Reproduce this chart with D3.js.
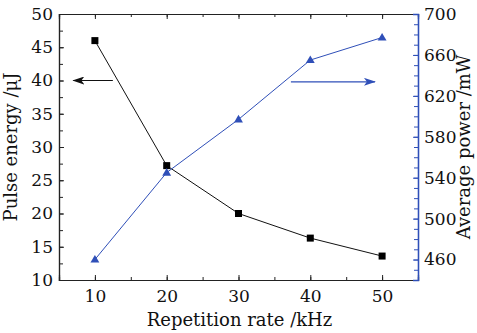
<!DOCTYPE html>
<html>
<head>
<meta charset="utf-8">
<script src="https://cdn.jsdelivr.net/npm/d3@7"></script>
<style>
  body { margin: 0; background: #fff; }
  text { font-family: "DejaVu Serif", serif; }
</style>
</head>
<body>
<div id="chart"></div>
<script>
// data
var rates = [10, 20, 30, 40, 50];
var pulseEnergy = [46, 27.2, 20, 16.3, 13.6];
var avgPower = [460, 545, 597, 655, 677];
var xTicks = [10, 20, 30, 40, 50];
var leftTicks = [10, 15, 20, 25, 30, 35, 40, 45, 50];
var rightTicks = [460, 500, 540, 580, 620, 660, 700];

var blue = "#2f4fb8";

var margin = {top: 14, right: 59, bottom: 53, left: 59},
    width = 477 - margin.left - margin.right,
    height = 333 - margin.top - margin.bottom;

var x = d3.scaleLinear().domain([5, 55]).range([0, width]);
var yL = d3.scaleLinear().domain([10, 50]).range([height, 0]);
var yR = d3.scaleLinear().domain([440, 700]).range([height, 0]);

var svg = d3.select("#chart").append("svg")
    .attr("width", 477)
    .attr("height", 333)
  .append("g")
    .attr("transform", "translate(" + margin.left + "," + margin.top + ")");

function minorTicks(scale, step) {
  var d = scale.domain(), out = [];
  for (var v = d[0]; v <= d[1] + 1e-9; v += step) out.push(+v.toFixed(6));
  return out;
}

// bottom axis
svg.append("g")
    .attr("transform", "translate(0," + height + ")")
    .call(d3.axisBottom(x).tickValues(minorTicks(x, 5)).tickSize(-3).tickFormat(""));
svg.append("g")
    .attr("class", "xaxis")
    .attr("transform", "translate(0," + height + ")")
    .call(d3.axisBottom(x).tickValues(xTicks).tickSize(-5).tickPadding(10));

// top axis
svg.append("g")
    .call(d3.axisTop(x).tickValues(minorTicks(x, 5)).tickSize(-3).tickFormat(""));
svg.append("g")
    .call(d3.axisTop(x).tickValues(xTicks).tickSize(-5).tickFormat(""));

// left axis
svg.append("g")
    .call(d3.axisLeft(yL).tickValues(minorTicks(yL, 2.5)).tickSize(-4).tickFormat(""));
svg.append("g")
    .attr("class", "yaxis")
    .call(d3.axisLeft(yL).tickValues(leftTicks).tickSize(-5).tickPadding(6));

// right axis
var rMinor = svg.append("g")
    .attr("transform", "translate(" + width + ",0)")
    .call(d3.axisRight(yR).tickValues(minorTicks(yR, 10)).tickSize(-4).tickFormat(""));
var rMajor = svg.append("g")
    .attr("class", "yaxis")
    .attr("transform", "translate(" + width + ",0)")
    .call(d3.axisRight(yR).tickValues(rightTicks).tickSize(-5).tickPadding(6));

svg.selectAll(".domain").attr("stroke", "#222").attr("stroke-width", 1.2);
svg.selectAll(".tick line").attr("stroke", "#222");
rMinor.selectAll(".domain, .tick line").attr("stroke", blue);
rMajor.selectAll(".domain, .tick line").attr("stroke", blue);
rMajor.select(".domain").attr("stroke-width", 1.4);

svg.selectAll(".xaxis text, .yaxis text")
    .attr("fill", "#111")
    .style("font-size", "17px");

// pulse energy series
var lineL = d3.line()
    .x(function(d, i) { return x(rates[i]); })
    .y(function(d) { return yL(d); });

svg.append("path")
    .datum(pulseEnergy)
    .attr("fill", "none")
    .attr("stroke", "#111")
    .attr("stroke-width", 1)
    .attr("d", lineL);

svg.selectAll(".sq")
    .data(pulseEnergy)
  .enter().append("rect")
    .attr("class", "sq")
    .attr("x", function(d, i) { return x(rates[i]) - 3.5; })
    .attr("y", function(d) { return yL(d) - 3.5; })
    .attr("width", 7)
    .attr("height", 7)
    .attr("fill", "#000");

// average power series
var lineR = d3.line()
    .x(function(d, i) { return x(rates[i]); })
    .y(function(d) { return yR(d); });

svg.append("path")
    .datum(avgPower)
    .attr("fill", "none")
    .attr("stroke", blue)
    .attr("stroke-width", 1)
    .attr("d", lineR);

svg.selectAll(".tri")
    .data(avgPower)
  .enter().append("path")
    .attr("class", "tri")
    .attr("transform", function(d, i) { return "translate(" + x(rates[i]) + "," + (yR(d) + 0.5) + ")"; })
    .attr("d", d3.symbol().type(d3.symbolTriangle).size(34))
    .attr("fill", blue);

// arrows pointing to the axes
var defs = svg.append("defs");
function arrowHead(id, col) {
  defs.append("marker")
      .attr("id", id)
      .attr("viewBox", "0 0 12 8")
      .attr("refX", 11)
      .attr("refY", 4)
      .attr("markerWidth", 12)
      .attr("markerHeight", 8)
      .attr("markerUnits", "userSpaceOnUse")
      .attr("orient", "auto")
    .append("path")
      .attr("d", "M0,0 L12,4 L0,8 L3,4 Z")
      .attr("fill", col);
}
arrowHead("ahBlack", "#111");
arrowHead("ahBlue", blue);

svg.append("line")
    .attr("x1", x(12.5)).attr("x2", x(7))
    .attr("y1", yL(40)).attr("y2", yL(40))
    .attr("stroke", "#111").attr("stroke-width", 1.2)
    .attr("marker-end", "url(#ahBlack)");

svg.append("line")
    .attr("x1", x(37.3)).attr("x2", x(49))
    .attr("y1", yL(39.8)).attr("y2", yL(39.8))
    .attr("stroke", blue).attr("stroke-width", 1.2)
    .attr("marker-end", "url(#ahBlue)");

// axis titles
svg.append("text")
    .attr("x", width / 2 + 1)
    .attr("y", height + 46)
    .attr("text-anchor", "middle")
    .style("font-size", "18px")
    .attr("fill", "#111")
    .text("Repetition rate /kHz");

svg.append("text")
    .attr("transform", "translate(" + (-42) + "," + (height / 2) + ") rotate(-90)")
    .attr("text-anchor", "middle")
    .style("font-size", "18px")
    .attr("fill", "#111")
    .text("Pulse energy /μJ");

svg.append("text")
    .attr("transform", "translate(" + (width + 52) + "," + (height / 2) + ") rotate(-90)")
    .attr("text-anchor", "middle")
    .style("font-size", "18px")
    .attr("fill", "#111")
    .text("Average power /mW");
</script>
</body>
</html>
